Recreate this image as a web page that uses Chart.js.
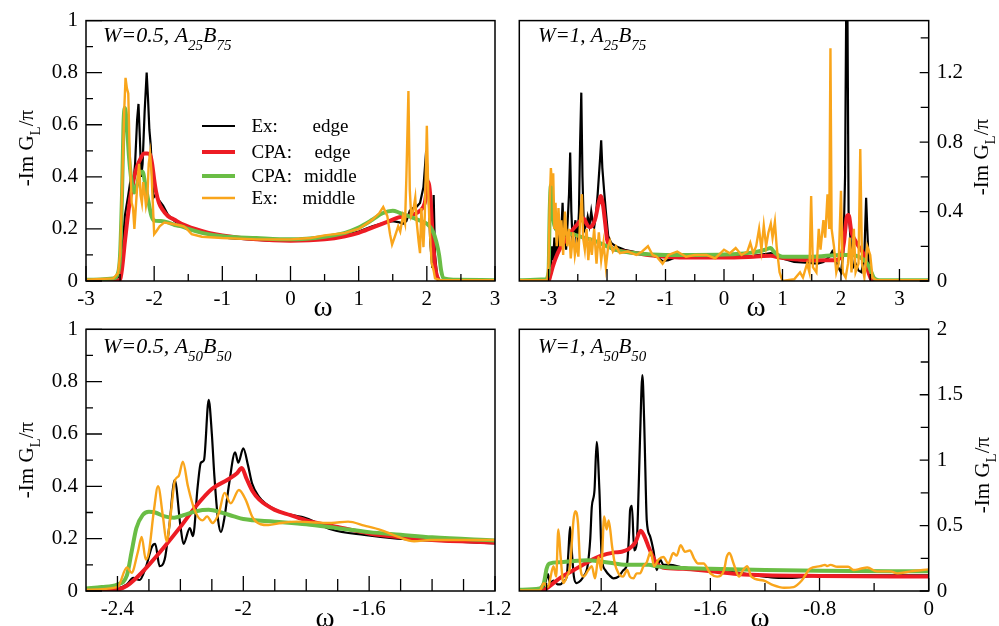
<!DOCTYPE html>
<html>
<head>
<meta charset="utf-8">
<title>-Im G_L/pi</title>
<script src="https://cdn.jsdelivr.net/npm/chart.js@4.4.0/dist/chart.umd.min.js"></script>
<style>
  html, body { margin: 0; padding: 0; background: #fff; }
  #wrap { position: relative; width: 999px; height: 626px; overflow: hidden; }
  #wrap canvas { position: absolute; left: 0; top: 0; }
</style>
</head>
<body>
<div id="wrap">
  <canvas id="p1" width="999" height="626"></canvas>
  <canvas id="p2" width="999" height="626"></canvas>
  <canvas id="p3" width="999" height="626"></canvas>
  <canvas id="p4" width="999" height="626"></canvas>
</div>
<script>
// ---- data: [omega, -Im G_L / pi] ----

// top left: W=0.5, A25B75
const p1ExEdge = [[-3,0],[-2.6,0.005],[-2.53,0.015],[-2.5,0.03],[-2.47,0.1],[-2.43,0.25],[-2.38,0.33],[-2.34,0.40],[-2.31,0.36],[-2.28,0.45],[-2.25,0.62],[-2.23,0.68],[-2.21,0.55],[-2.19,0.40],[-2.17,0.45],[-2.14,0.65],[-2.11,0.80],[-2.09,0.70],[-2.07,0.58],[-2.05,0.52],[-2.03,0.40],[-2.01,0.32],[-1.98,0.33],[-1.93,0.31],[-1.87,0.29],[-1.8,0.255],[-1.7,0.23],[-1.6,0.215],[-1.5,0.205],[-1.3,0.19],[-1.1,0.175],[-0.9,0.165],[-0.6,0.16],[-0.3,0.155],[0,0.155],[0.3,0.16],[0.6,0.165],[0.8,0.175],[1.0,0.19],[1.2,0.21],[1.4,0.225],[1.5,0.23],[1.6,0.225],[1.65,0.22],[1.7,0.23],[1.75,0.27],[1.8,0.28],[1.85,0.285],[1.9,0.30],[1.95,0.36],[1.99,0.50],[2.02,0.38],[2.05,0.15],[2.08,0.05],[2.1,0.33],[2.12,0.10],[2.15,0.02],[2.2,0],[3,0]];
const p1CpaEdge = [[-3,0],[-2.6,0],[-2.5,0.005],[-2.47,0.05],[-2.43,0.15],[-2.4,0.22],[-2.35,0.32],[-2.3,0.39],[-2.25,0.44],[-2.2,0.47],[-2.15,0.49],[-2.1,0.49],[-2.06,0.485],[-2.03,0.45],[-2.0,0.39],[-1.97,0.34],[-1.93,0.30],[-1.88,0.275],[-1.8,0.25],[-1.7,0.235],[-1.6,0.22],[-1.4,0.2],[-1.2,0.185],[-1.0,0.175],[-0.5,0.16],[0,0.155],[0.5,0.16],[0.8,0.172],[1.0,0.185],[1.2,0.205],[1.4,0.225],[1.6,0.245],[1.8,0.255],[1.9,0.27],[1.97,0.30],[2.02,0.38],[2.05,0.33],[2.08,0.2],[2.12,0.06],[2.16,0.01],[2.2,0],[3,0]];
const p1CpaMid = [[-3,0.005],[-2.6,0.01],[-2.53,0.03],[-2.5,0.1],[-2.47,0.35],[-2.45,0.6],[-2.43,0.665],[-2.4,0.6],[-2.37,0.48],[-2.33,0.38],[-2.29,0.34],[-2.25,0.37],[-2.2,0.42],[-2.17,0.42],[-2.13,0.37],[-2.08,0.3],[-2.04,0.25],[-2.0,0.232],[-1.9,0.23],[-1.8,0.225],[-1.7,0.215],[-1.6,0.21],[-1.5,0.2],[-1.3,0.185],[-1.0,0.172],[-0.5,0.165],[0,0.16],[0.5,0.17],[0.8,0.185],[1.0,0.205],[1.2,0.235],[1.35,0.26],[1.5,0.27],[1.6,0.262],[1.7,0.252],[1.8,0.242],[1.9,0.232],[2.0,0.22],[2.08,0.195],[2.14,0.15],[2.18,0.1],[2.21,0.04],[2.25,0.01],[2.4,0.005],[3,0.003]];
const p1ExMid = [[-3,0.005],[-2.6,0.01],[-2.53,0.03],[-2.5,0.1],[-2.47,0.35],[-2.44,0.65],[-2.42,0.78],[-2.4,0.74],[-2.38,0.72],[-2.36,0.5],[-2.33,0.3],[-2.31,0.28],[-2.29,0.2],[-2.27,0.28],[-2.24,0.4],[-2.22,0.45],[-2.2,0.33],[-2.18,0.3],[-2.16,0.38],[-2.14,0.34],[-2.12,0.29],[-2.1,0.32],[-2.08,0.45],[-2.06,0.49],[-2.04,0.42],[-2.02,0.3],[-2.0,0.18],[-1.97,0.19],[-1.92,0.21],[-1.85,0.225],[-1.75,0.22],[-1.65,0.215],[-1.57,0.21],[-1.52,0.2],[-1.45,0.18],[-1.3,0.17],[-1.0,0.165],[-0.5,0.16],[0,0.16],[0.3,0.165],[0.5,0.175],[0.8,0.185],[1.0,0.2],[1.2,0.235],[1.3,0.26],[1.36,0.284],[1.42,0.25],[1.46,0.18],[1.49,0.14],[1.53,0.17],[1.58,0.21],[1.61,0.19],[1.65,0.25],[1.68,0.22],[1.7,0.4],[1.73,0.73],[1.75,0.35],[1.77,0.25],[1.8,0.27],[1.83,0.32],[1.85,0.23],[1.88,0.15],[1.9,0.107],[1.92,0.28],[1.95,0.13],[1.97,0.25],[2.0,0.596],[2.02,0.35],[2.04,0.21],[2.07,0.07],[2.1,0.04],[2.12,0.01],[2.2,0.003],[3,0.003]];

// top right: W=1, A25B75
const p2ExEdge = [[-3.5,0],[-3.05,0],[-3.0,0.005],[-2.98,0.15],[-2.96,0.08],[-2.94,0.2],[-2.92,0.12],[-2.9,0.25],[-2.88,0.13],[-2.86,0.22],[-2.84,0.15],[-2.82,0.28],[-2.8,0.2],[-2.78,0.3],[-2.76,0.45],[-2.74,0.25],[-2.72,0.26],[-2.7,0.18],[-2.68,0.3],[-2.65,0.5],[-2.63,0.74],[-2.61,0.4],[-2.59,0.24],[-2.56,0.3],[-2.54,0.35],[-2.52,0.22],[-2.5,0.26],[-2.48,0.4],[-2.46,0.8],[-2.44,1.085],[-2.42,0.6],[-2.4,0.35],[-2.38,0.3],[-2.35,0.33],[-2.33,0.37],[-2.3,0.32],[-2.27,0.40],[-2.24,0.33],[-2.22,0.31],[-2.19,0.38],[-2.16,0.5],[-2.12,0.7],[-2.1,0.81],[-2.08,0.65],[-2.05,0.52],[-2.02,0.4],[-1.98,0.26],[-1.93,0.22],[-1.85,0.2],[-1.7,0.18],[-1.5,0.165],[-1.3,0.155],[-1.15,0.14],[-1.05,0.115],[-0.95,0.12],[-0.8,0.14],[-0.5,0.14],[0,0.14],[0.5,0.145],[0.8,0.16],[0.9,0.15],[1.0,0.13],[1.2,0.11],[1.4,0.105],[1.6,0.1],[1.7,0.11],[1.8,0.14],[1.85,0.17],[1.9,0.13],[1.95,0.08],[2.0,0.05],[2.04,0.16],[2.07,0.6],[2.09,1.6],[2.1,1.7],[2.11,1.6],[2.13,0.4],[2.15,0.31],[2.18,0.15],[2.21,0.08],[2.25,0.1],[2.3,0.06],[2.35,0.05],[2.4,0.15],[2.43,0.48],[2.45,0.3],[2.48,0.05],[2.52,0],[3.5,0]];
const p2CpaEdge = [[-3.5,0],[-3.0,0],[-2.97,0.03],[-2.93,0.08],[-2.88,0.13],[-2.8,0.19],[-2.7,0.24],[-2.6,0.29],[-2.5,0.33],[-2.45,0.35],[-2.4,0.36],[-2.35,0.33],[-2.3,0.31],[-2.25,0.32],[-2.2,0.36],[-2.15,0.44],[-2.11,0.49],[-2.07,0.44],[-2.03,0.33],[-2.0,0.24],[-1.95,0.2],[-1.85,0.18],[-1.6,0.165],[-1.3,0.15],[-1.0,0.14],[-0.5,0.135],[0,0.135],[0.5,0.14],[0.8,0.145],[0.95,0.135],[1.2,0.125],[1.6,0.12],[1.9,0.12],[2.0,0.14],[2.05,0.22],[2.1,0.37],[2.13,0.38],[2.18,0.28],[2.25,0.23],[2.3,0.2],[2.38,0.16],[2.43,0.1],[2.48,0.04],[2.52,0.01],[2.6,0],[3.5,0]];
const p2CpaMid = [[-3.5,0.005],[-3.05,0.01],[-3.0,0.05],[-2.98,0.4],[-2.96,0.55],[-2.93,0.4],[-2.9,0.32],[-2.8,0.28],[-2.6,0.27],[-2.4,0.25],[-2.2,0.23],[-2.0,0.2],[-1.8,0.175],[-1.5,0.16],[-1.0,0.15],[-0.5,0.15],[0,0.152],[0.5,0.165],[0.7,0.18],[0.8,0.19],[0.85,0.17],[0.92,0.15],[1.0,0.14],[1.5,0.14],[2.0,0.15],[2.2,0.15],[2.3,0.14],[2.4,0.12],[2.47,0.09],[2.52,0.05],[2.57,0.015],[2.65,0.005],[3.5,0.005]];
const p2ExMid = [[-3.5,0.005],[-3.02,0.005],[-3.0,0.1],[-2.98,0.45],[-2.96,0.65],[-2.94,0.55],[-2.92,0.62],[-2.9,0.3],[-2.88,0.45],[-2.86,0.2],[-2.83,0.42],[-2.8,0.2],[-2.78,0.35],[-2.75,0.15],[-2.72,0.4],[-2.68,0.2],[-2.65,0.3],[-2.62,0.13],[-2.58,0.28],[-2.55,0.15],[-2.52,0.22],[-2.49,0.14],[-2.46,0.35],[-2.43,0.5],[-2.41,0.25],[-2.38,0.18],[-2.35,0.3],[-2.32,0.12],[-2.29,0.25],[-2.26,0.15],[-2.22,0.3],[-2.18,0.1],[-2.14,0.28],[-2.1,0.12],[-2.06,0.22],[-2.02,0.08],[-1.98,0.2],[-1.95,0.23],[-1.9,0.17],[-1.85,0.2],[-1.78,0.16],[-1.65,0.17],[-1.5,0.15],[-1.4,0.17],[-1.3,0.2],[-1.22,0.15],[-1.15,0.14],[-1.05,0.1],[-0.95,0.15],[-0.8,0.17],[-0.65,0.14],[-0.5,0.15],[-0.3,0.15],[-0.15,0.13],[0,0.18],[0.1,0.16],[0.2,0.19],[0.3,0.15],[0.4,0.17],[0.45,0.22],[0.5,0.16],[0.55,0.2],[0.6,0.3],[0.64,0.18],[0.68,0.32],[0.72,0.2],[0.76,0.28],[0.8,0.33],[0.83,0.25],[0.87,0.34],[0.9,0.2],[0.95,0.05],[1.0,0],[1.2,0.01],[1.3,0.05],[1.35,0.02],[1.42,0.1],[1.46,0.05],[1.49,0.49],[1.52,0.08],[1.58,0.05],[1.62,0.3],[1.65,0.18],[1.7,0.35],[1.73,0.25],[1.77,0.5],[1.8,0.3],[1.82,1.34],[1.84,0.3],[1.88,0.2],[1.92,0.05],[1.96,0.1],[2.0,0.52],[2.03,0.05],[2.08,0.02],[2.12,0.1],[2.15,0.25],[2.18,0.05],[2.22,0.3],[2.25,0.05],[2.3,0.1],[2.33,0.76],[2.36,0.1],[2.4,0.02],[2.45,0.2],[2.5,0.15],[2.54,0.02],[2.6,0.005],[3.5,0.005]];

// bottom left: W=0.5, A50B50
const p3ExEdge = [[-2.5,0.005],[-2.4,0.01],[-2.37,0.025],[-2.35,0.05],[-2.33,0.042],[-2.31,0.09],[-2.29,0.17],[-2.28,0.18],[-2.266,0.095],[-2.25,0.12],[-2.235,0.25],[-2.218,0.424],[-2.2,0.25],[-2.19,0.18],[-2.17,0.24],[-2.16,0.21],[-2.145,0.40],[-2.135,0.49],[-2.125,0.50],[-2.11,0.73],[-2.1,0.6],[-2.092,0.44],[-2.08,0.27],[-2.071,0.225],[-2.06,0.28],[-2.045,0.41],[-2.026,0.53],[-2.016,0.49],[-2.0,0.545],[-1.985,0.48],[-1.972,0.41],[-1.95,0.36],[-1.93,0.335],[-1.877,0.30],[-1.80,0.278],[-1.72,0.235],[-1.615,0.214],[-1.51,0.20],[-1.405,0.193],[-1.2,0.182]];
const p3CpaEdge = [[-2.5,0.002],[-2.4,0.006],[-2.37,0.02],[-2.34,0.05],[-2.3,0.1],[-2.25,0.17],[-2.2,0.245],[-2.15,0.325],[-2.1,0.39],[-2.05,0.425],[-2.02,0.45],[-2.005,0.47],[-1.99,0.43],[-1.97,0.38],[-1.95,0.35],[-1.9,0.31],[-1.85,0.29],[-1.8,0.27],[-1.7,0.245],[-1.6,0.22],[-1.5,0.205],[-1.4,0.195],[-1.2,0.185]];
const p3CpaMid = [[-2.5,0.01],[-2.45,0.015],[-2.4,0.025],[-2.37,0.06],[-2.355,0.15],[-2.34,0.24],[-2.32,0.29],[-2.3,0.303],[-2.28,0.3],[-2.25,0.285],[-2.22,0.28],[-2.19,0.29],[-2.15,0.305],[-2.11,0.31],[-2.07,0.3],[-2.03,0.285],[-2.0,0.275],[-1.9,0.265],[-1.8,0.255],[-1.7,0.24],[-1.6,0.225],[-1.5,0.215],[-1.4,0.205],[-1.2,0.193]];
const p3ExMid = [[-2.5,0.005],[-2.4,0.015],[-2.37,0.09],[-2.355,0.07],[-2.335,0.15],[-2.323,0.207],[-2.31,0.12],[-2.3,0.15],[-2.285,0.3],[-2.271,0.40],[-2.255,0.28],[-2.244,0.19],[-2.23,0.3],[-2.218,0.42],[-2.205,0.44],[-2.192,0.494],[-2.176,0.40],[-2.155,0.31],[-2.13,0.27],[-2.115,0.285],[-2.098,0.26],[-2.077,0.30],[-2.06,0.375],[-2.04,0.335],[-2.014,0.386],[-1.993,0.35],[-1.97,0.28],[-1.945,0.255],[-1.92,0.252],[-1.88,0.26],[-1.83,0.265],[-1.77,0.262],[-1.72,0.26],[-1.667,0.265],[-1.615,0.25],[-1.562,0.233],[-1.51,0.208],[-1.457,0.19],[-1.405,0.195],[-1.2,0.195]];

// bottom right: W=1, A50B50
const p4ExEdge = [[-3,0],[-2.85,0],[-2.82,0.03],[-2.81,0.06],[-2.79,0.13],[-2.775,0.06],[-2.75,0.08],[-2.72,0.05],[-2.7,0.05],[-2.67,0.08],[-2.652,0.11],[-2.64,0.3],[-2.628,0.49],[-2.615,0.3],[-2.6,0.11],[-2.58,0.06],[-2.55,0.08],[-2.53,0.11],[-2.5,0.19],[-2.48,0.4],[-2.469,0.64],[-2.449,0.77],[-2.433,1.14],[-2.413,0.77],[-2.396,0.26],[-2.37,0.16],[-2.34,0.12],[-2.31,0.097],[-2.273,0.11],[-2.236,0.16],[-2.21,0.21],[-2.195,0.45],[-2.188,0.62],[-2.175,0.65],[-2.158,0.31],[-2.14,0.36],[-2.125,0.8],[-2.115,1.18],[-2.098,1.65],[-2.085,1.3],[-2.078,1.0],[-2.066,0.54],[-2.042,0.42],[-2.017,0.31],[-1.993,0.16],[-1.968,0.24],[-1.944,0.2],[-1.9,0.2],[-1.8,0.18],[-1.6,0.16],[-1.4,0.14],[-1.3,0.125],[-1.2,0.11],[-1.1,0.1],[-1.0,0.1],[-0.9,0.11],[-0.8,0.12],[0,0.12]];
const p4CpaEdge = [[-3,0],[-2.85,0],[-2.8,0.02],[-2.75,0.06],[-2.7,0.1],[-2.6,0.16],[-2.5,0.22],[-2.4,0.27],[-2.3,0.295],[-2.25,0.3],[-2.2,0.32],[-2.15,0.37],[-2.11,0.46],[-2.08,0.41],[-2.05,0.33],[-2.0,0.22],[-1.95,0.18],[-1.8,0.17],[-1.6,0.15],[-1.4,0.13],[-1.2,0.12],[-0.8,0.115],[0,0.11]];
const p4CpaMid = [[-3,0.01],[-2.85,0.02],[-2.82,0.06],[-2.8,0.17],[-2.78,0.21],[-2.7,0.22],[-2.6,0.23],[-2.5,0.235],[-2.4,0.225],[-2.3,0.21],[-2.2,0.2],[-2.05,0.2],[-2.0,0.19],[-1.9,0.18],[-1.6,0.17],[-1.2,0.16],[-0.8,0.155],[0,0.15]];
const p4ExMid = [[-3,0.005],[-2.85,0.005],[-2.82,0.06],[-2.79,0.03],[-2.75,0.19],[-2.73,0.11],[-2.714,0.47],[-2.697,0.26],[-2.677,0.06],[-2.652,0.11],[-2.628,0.19],[-2.603,0.54],[-2.59,0.61],[-2.57,0.52],[-2.555,0.21],[-2.53,0.11],[-2.494,0.16],[-2.469,0.19],[-2.445,0.097],[-2.42,0.26],[-2.40,0.16],[-2.378,0.57],[-2.36,0.47],[-2.345,0.54],[-2.32,0.34],[-2.30,0.21],[-2.273,0.135],[-2.24,0.11],[-2.21,0.16],[-2.19,0.11],[-2.163,0.097],[-2.14,0.135],[-2.115,0.135],[-2.09,0.19],[-2.066,0.22],[-2.037,0.30],[-2.012,0.19],[-1.98,0.24],[-1.944,0.26],[-1.908,0.21],[-1.872,0.29],[-1.847,0.27],[-1.818,0.35],[-1.786,0.30],[-1.75,0.31],[-1.72,0.25],[-1.69,0.21],[-1.65,0.21],[-1.6,0.135],[-1.55,0.11],[-1.5,0.16],[-1.48,0.26],[-1.46,0.29],[-1.43,0.21],[-1.39,0.11],[-1.36,0.16],[-1.33,0.19],[-1.30,0.11],[-1.21,0.08],[-1.14,0.045],[-1.06,0.025],[-0.99,0.03],[-0.93,0.08],[-0.87,0.17],[-0.795,0.19],[-0.76,0.2],[-0.745,0.19],[-0.72,0.2],[-0.67,0.185],[-0.59,0.185],[-0.55,0.16],[-0.5,0.17],[-0.45,0.18],[-0.38,0.15],[-0.28,0.15],[-0.23,0.135],[-0.13,0.15],[0,0.165]];

// ---- tick labels (majors) and minor tick positions ----
const p1XLabels = ['-3', '-2', '-1', '0', '1', '2', '3'];
const p1XMinor = [-2.5, -1.5, -0.5, 0.5, 1.5, 2.5];
const p1YLabels = ['0', '0.2', '0.4', '0.6', '0.8', '1'];
const p1YMinor = [0.1, 0.3, 0.5, 0.7, 0.9];

const p2XLabels = ['-3', '-2', '-1', '0', '1', '2', '3'];
const p2XMinor = [-2.5, -1.5, -0.5, 0.5, 1.5, 2.5];
const p2YLabels = ['0', '0.4', '0.8', '1.2'];
const p2YMinor = [0.2, 0.6, 1.0, 1.4];

const p3XLabels = ['-2.4', '-2', '-1.6', '-1.2'];
const p3XMinor = [-2.3, -2.2, -2.1, -1.9, -1.8, -1.7, -1.5, -1.4, -1.3];
const p3YLabels = ['0', '0.2', '0.4', '0.6', '0.8', '1'];
const p3YMinor = [0.1, 0.3, 0.5, 0.7, 0.9];

const p4XLabels = ['-2.4', '-1.6', '-0.8', '0'];
const p4XMinor = [-2.8, -2.0, -1.2, -0.4];
const p4YLabels = ['0', '0.5', '1', '1.5', '2'];
const p4YMinor = [0.25, 0.75, 1.25, 1.75];

const seriesNames = ['Ex:', 'CPA:', 'CPA:', 'Ex:'];
const seriesSites = ['edge', 'edge', 'middle', 'middle'];

// ---- styling ----
const BLACK = '#000000', RED = '#ed1c24', GREEN = '#6abd45', ORANGE = '#f9a51b';
const SERIF = '"Liberation Serif", "DejaVu Serif", serif';

function drawRuns(ctx, x, y, runs) {
  runs.forEach(r => {
    ctx.font = r.font;
    ctx.fillText(r.t, x, y + (r.dy || 0));
    x += ctx.measureText(r.t).width;
  });
}

function runsWidth(ctx, runs) {
  let w = 0;
  runs.forEach(r => { ctx.font = r.font; w += ctx.measureText(r.t).width; });
  return w;
}

const panelDecor = {
  id: 'panelDecor',
  afterDatasetsDraw(chart, args, o) {
    const { ctx, chartArea: a, scales: { x, y } } = chart;
    ctx.save();
    ctx.strokeStyle = '#000';
    ctx.fillStyle = '#000';

    // inward ticks
    ctx.lineWidth = 1.3;
    ctx.beginPath();
    x.ticks.forEach(t => {
      const px = x.getPixelForValue(t.value);
      const len = t.big ? o.xTick[0] : o.xTick[1];
      ctx.moveTo(px, a.bottom);
      ctx.lineTo(px, a.bottom - len);
    });
    y.ticks.forEach(t => {
      const py = y.getPixelForValue(t.value);
      const len = t.big ? o.yTick[0] : o.yTick[1];
      if (o.yRight) { ctx.moveTo(a.right, py); ctx.lineTo(a.right - len, py); }
      else { ctx.moveTo(a.left, py); ctx.lineTo(a.left + len, py); }
    });
    ctx.stroke();

    // frame
    ctx.lineWidth = 1.5;
    ctx.strokeRect(a.left, a.top, a.right - a.left, a.bottom - a.top);

    // panel annotation, e.g. W=0.5, A25B75
    ctx.textAlign = 'left';
    ctx.textBaseline = 'alphabetic';
    const big = 'italic ' + o.ann.size + 'px ' + SERIF, small = 'italic 15px ' + SERIF;
    drawRuns(ctx, o.ann.x, o.ann.y, [
      { t: o.ann.text, font: big },
      { t: o.ann.subA, font: small, dy: 8 },
      { t: 'B', font: big },
      { t: o.ann.subB, font: small, dy: 8 }
    ]);

    // y title: -Im G_L / pi, rotated
    const yRuns = [
      { t: '-Im G', font: '21px ' + SERIF },
      { t: 'L', font: '15px ' + SERIF, dy: 7 },
      { t: '/\u03c0', font: '21px ' + SERIF }
    ];
    ctx.save();
    ctx.translate(o.yTitle.x, o.yTitle.y);
    ctx.rotate(-Math.PI / 2);
    drawRuns(ctx, -runsWidth(ctx, yRuns) / 2, 7, yRuns);
    ctx.restore();

    // x title: omega
    ctx.font = '29px ' + SERIF;
    ctx.textAlign = 'center';
    ctx.fillText('\u03c9', o.omega.x, o.omega.y);

    // legend (top left panel only)
    if (o.legend) {
      ctx.textAlign = 'left';
      ctx.font = '19px ' + SERIF;
      chart.data.datasets.slice().reverse().forEach((ds, i) => {
        const ly = o.legend.rows[i];
        ctx.strokeStyle = ds.borderColor;
        ctx.lineWidth = ds.borderWidth;
        ctx.beginPath();
        ctx.moveTo(o.legend.x0, ly);
        ctx.lineTo(o.legend.x1, ly);
        ctx.stroke();
        ctx.fillText(seriesNames[i], o.legend.tx, ly + 5.5);
        ctx.fillText(seriesSites[i], o.legend.sx[i], ly + 5.5);
      });
    }
    ctx.restore();
  }
};

function axis(min, max, labels, minors, pos, fit, pad) {
  const majors = labels.map(Number);
  const isX = pos === 'bottom';
  return {
    type: 'linear',
    position: pos,
    min: min,
    max: max,
    grid: { display: false, drawTicks: false },
    border: { display: false },
    afterBuildTicks: s => {
      s.ticks = majors.map(v => ({ value: v, big: true }))
        .concat(minors.map(v => ({ value: v, big: false })))
        .sort((p, q) => p.value - q.value);
    },
    afterFit: s => { if (isX) s.height = fit; else s.width = fit; },
    ticks: {
      autoSkip: false,
      maxRotation: 0,
      padding: pad,
      color: '#000',
      font: { family: SERIF, size: 21 },
      callback: v => {
        const i = majors.findIndex(m => Math.abs(m - v) < 1e-9);
        return i >= 0 ? labels[i] : '';
      }
    }
  };
}

function line(data, color, width, smooth) {
  return {
    data: data,
    borderColor: color,
    borderWidth: width,
    pointRadius: 0,
    fill: false,
    tension: 0,
    cubicInterpolationMode: smooth ? 'monotone' : 'default'
  };
}

function makePanel(id, p) {
  new Chart(document.getElementById(id), {
    type: 'line',
    data: {
      // first dataset is drawn on top
      datasets: [
        line(p.exMid, ORANGE, 2.4, p.smoothEx),
        line(p.cpaMid, GREEN, 4, true),
        line(p.cpaEdge, RED, 4, true),
        line(p.exEdge, BLACK, 2.2, p.smoothEx)
      ]
    },
    options: {
      responsive: false,
      animation: false,
      events: [],
      layout: { padding: p.pad },
      plugins: { legend: { display: false }, tooltip: { enabled: false }, panelDecor: p.decor },
      scales: {
        x: axis(p.xMin, p.xMax, p.xLabels, p.xMinor, 'bottom', 30, 6),
        y: axis(p.yMin, p.yMax, p.yLabels, p.yMinor, p.yRight ? 'right' : 'left', 40, 8)
      }
    },
    plugins: [panelDecor]
  });
}

makePanel('p1', {
  exEdge: p1ExEdge, cpaEdge: p1CpaEdge, cpaMid: p1CpaMid, exMid: p1ExMid, smoothEx: false,
  xMin: -3, xMax: 3, xLabels: p1XLabels, xMinor: p1XMinor,
  yMin: 0, yMax: 1, yLabels: p1YLabels, yMinor: p1YMinor, yRight: false,
  pad: { left: 46, right: 504, top: 19.3, bottom: 315 },
  decor: {
    xTick: [15, 7], yTick: [16, 7], yRight: false,
    ann: { x: 103, y: 42, size: 22, text: 'W=0.5, A', subA: '25', subB: '75' },
    yTitle: { x: 26, y: 148 }, omega: { x: 323, y: 316 },
    legend: { x0: 202, x1: 235, tx: 251.5, rows: [126, 152, 176, 198], sx: [312.5, 314.5, 304, 302.5] }
  }
});

makePanel('p2', {
  exEdge: p2ExEdge, cpaEdge: p2CpaEdge, cpaMid: p2CpaMid, exMid: p2ExMid, smoothEx: false,
  xMin: -3.5, xMax: 3.5, xLabels: p2XLabels, xMinor: p2XMinor,
  yMin: 0, yMax: 1.5, yLabels: p2YLabels, yMinor: p2YMinor, yRight: true,
  pad: { left: 519.3, right: 30.3, top: 19.3, bottom: 315 },
  decor: {
    xTick: [12, 7], yTick: [9, 8], yRight: true,
    ann: { x: 538, y: 42, size: 21, text: 'W=1, A', subA: '25', subB: '75' },
    yTitle: { x: 981, y: 157 }, omega: { x: 756, y: 316 }
  }
});

makePanel('p3', {
  exEdge: p3ExEdge, cpaEdge: p3CpaEdge, cpaMid: p3CpaMid, exMid: p3ExMid, smoothEx: true,
  xMin: -2.5, xMax: -1.2, xLabels: p3XLabels, xMinor: p3XMinor,
  yMin: 0, yMax: 1, yLabels: p3YLabels, yMinor: p3YMinor, yRight: false,
  pad: { left: 46, right: 504, top: 329.3, bottom: 5 },
  decor: {
    xTick: [15, 12], yTick: [16, 7], yRight: false,
    ann: { x: 103, y: 353, size: 22, text: 'W=0.5, A', subA: '50', subB: '50' },
    yTitle: { x: 26, y: 460 }, omega: { x: 325, y: 627 }
  }
});

makePanel('p4', {
  exEdge: p4ExEdge, cpaEdge: p4CpaEdge, cpaMid: p4CpaMid, exMid: p4ExMid, smoothEx: true,
  xMin: -3, xMax: 0, xLabels: p4XLabels, xMinor: p4XMinor,
  yMin: 0, yMax: 2, yLabels: p4YLabels, yMinor: p4YMinor, yRight: true,
  pad: { left: 519.3, right: 30.3, top: 329.3, bottom: 5 },
  decor: {
    xTick: [13, 8], yTick: [9, 8], yRight: true,
    ann: { x: 538, y: 353, size: 21, text: 'W=1, A', subA: '50', subB: '50' },
    yTitle: { x: 982, y: 475 }, omega: { x: 760, y: 627 }
  }
});
</script>
</body>
</html>
